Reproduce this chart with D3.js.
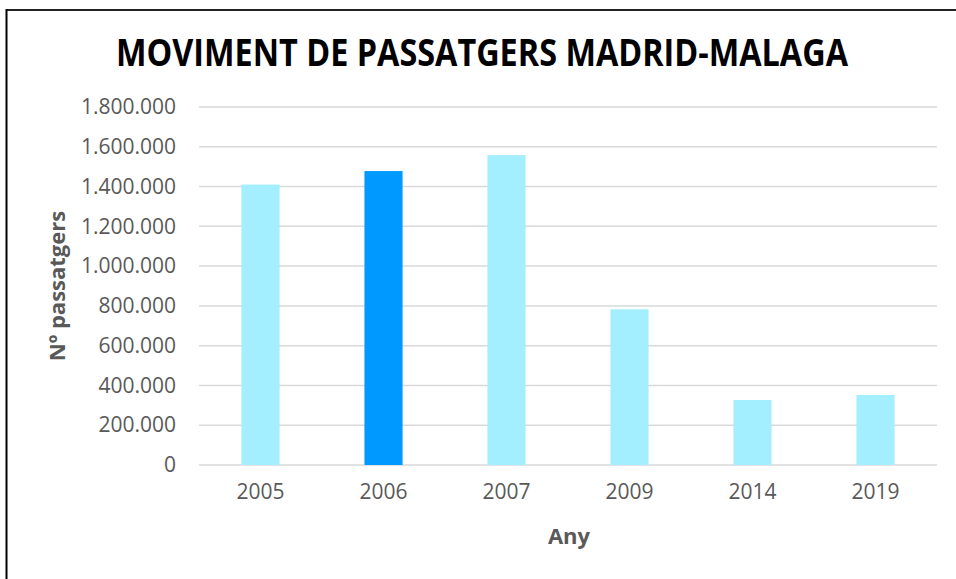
<!DOCTYPE html>
<html>
<head>
<meta charset="utf-8">
<script src="https://cdn.jsdelivr.net/npm/d3@7"></script>
<style>
  body { margin: 0; background: #fff; }
  text { font-family: "Open Sans", "Liberation Sans", sans-serif; }
</style>
</head>
<body>
<div id="chart"></div>
<script>
// chart data
var years = ["2005", "2006", "2007", "2009", "2014", "2019"];
var passengers = [1410000, 1478000, 1558000, 783000, 327000, 352000];
var highlightYear = "2006";
var yTicks = [0, 200000, 400000, 600000, 800000, 1000000, 1200000, 1400000, 1600000, 1800000];

var width = 956, height = 579;
var plotLeft = 199, plotRight = 937, plotTop = 107, plotBottom = 465;

var svg = d3.select("#chart").append("svg")
            .attr("width", width)
            .attr("height", height);

// frame (only top and left visible)
svg.append("line")
   .attr("x1", 6).attr("x2", width).attr("y1", 10).attr("y2", 10)
   .attr("stroke", "#222").attr("stroke-width", 2);
svg.append("line")
   .attr("x1", 6.5).attr("x2", 6.5).attr("y1", 9).attr("y2", height)
   .attr("stroke", "#000").attr("stroke-width", 2);

var x = d3.scaleBand()
          .domain(years)
          .range([plotLeft, plotRight])
          .paddingInner(0.69)
          .paddingOuter(0.345);

var y = d3.scaleLinear()
          .domain([0, 1800000])
          .range([plotBottom, plotTop]);

var fmt = function(d) { return d3.format(",")(d).replace(/,/g, "."); };

// gridlines
svg.append("g")
   .selectAll("line")
   .data(yTicks)
   .enter().append("line")
   .attr("x1", plotLeft).attr("x2", plotRight)
   .attr("y1", function(d) { return y(d); })
   .attr("y2", function(d) { return y(d); })
   .attr("stroke", "#d9d9d9")
   .attr("stroke-width", 1.5);

// bars
svg.append("g")
   .selectAll("rect")
   .data(years)
   .enter().append("rect")
   .attr("x", function(d) { return x(d); })
   .attr("width", x.bandwidth())
   .attr("y", function(d, i) { return y(passengers[i]); })
   .attr("height", function(d, i) { return plotBottom - y(passengers[i]); })
   .attr("fill", function(d) { return d === highlightYear ? "#0099ff" : "#a3eeff"; });

// y axis
var yAxis = svg.append("g")
   .attr("transform", "translate(" + (plotLeft - 23) + ",0)")
   .call(d3.axisLeft(y).tickValues(yTicks).tickFormat(fmt).tickSize(0).tickPadding(0));
yAxis.select(".domain").remove();
yAxis.selectAll("text")
     .attr("fill", "#595959")
     .style("font-size", "21px")
     .style("font-family", "'Open Sans', sans-serif");

// x axis
var xAxis = svg.append("g")
   .attr("transform", "translate(0," + plotBottom + ")")
   .call(d3.axisBottom(x).tickSize(0).tickPadding(19));
xAxis.select(".domain").remove();
xAxis.selectAll("text")
     .attr("fill", "#595959")
     .style("font-size", "21px")
     .style("font-family", "'Open Sans', sans-serif");

// titles
svg.append("text")
   .attr("x", 482).attr("y", 66)
   .attr("text-anchor", "middle")
   .attr("textLength", 732)
   .attr("lengthAdjust", "spacingAndGlyphs")
   .style("font-size", "37px")
   .style("font-weight", "bold")
   .attr("fill", "#000")
   .text("MOVIMENT DE PASSATGERS MADRID-MALAGA");

svg.append("text")
   .attr("x", 569).attr("y", 544)
   .attr("text-anchor", "middle")
   .style("font-size", "22px")
   .style("font-weight", "bold")
   .attr("fill", "#595959")
   .text("Any");

svg.append("text")
   .attr("transform", "translate(65,286) rotate(-90)")
   .attr("text-anchor", "middle")
   .style("font-size", "22px")
   .style("font-weight", "bold")
   .attr("fill", "#595959")
   .text("Nº passatgers");
</script>
</body>
</html>
